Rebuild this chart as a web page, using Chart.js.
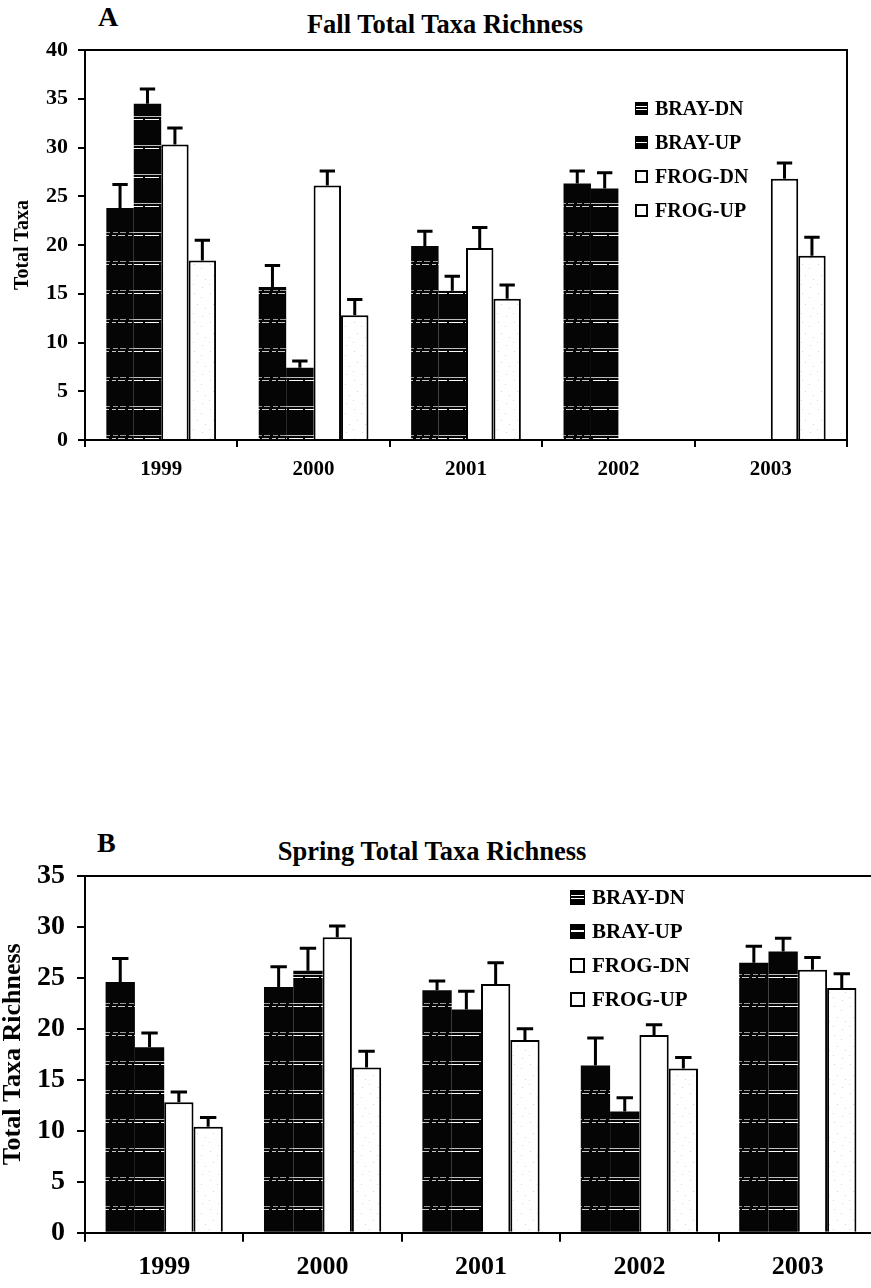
<!DOCTYPE html>
<html>
<head>
<meta charset="utf-8">
<script src="https://cdn.jsdelivr.net/npm/chart.js@4"></script>
<style>
html, body { margin: 0; padding: 0; background: #fff; overflow: hidden; }
body { position: relative; width: 871px; height: 1288px; font-family: "Liberation Serif", "DejaVu Serif", serif; font-weight: bold; color: #000; }
canvas { position: absolute; left: 0; }
.lbl { position: absolute; line-height: 1; white-space: nowrap; }
.legend { position: absolute; }
.legend .row { position: absolute; left: 0; white-space: nowrap; line-height: 1; }
.legend .sw { position: absolute; left: 0; box-sizing: border-box; }
</style>
</head>
<body>
<div class="lbl" style="left:98px; top:3px; font-size:28px;">A</div>
<div class="lbl" style="left:445px; top:11px; font-size:26.5px; transform:translateX(-50%);">Fall Total Taxa Richness</div>
<canvas id="fallchart" width="871" height="500" style="top:0px"></canvas>
<div class="legend" id="fallLegend" style="left:635px; top:98px;"></div>

<div class="lbl" style="left:97px; top:829px; font-size:28px;">B</div>
<div class="lbl" style="left:432px; top:838px; font-size:26.5px; transform:translateX(-50%);">Spring Total Taxa Richness</div>
<canvas id="springchart" width="880" height="488" style="top:800px"></canvas>
<div class="legend" id="springLegend" style="left:570px; top:887px;"></div>

<script>
var years = ['1999', '2000', '2001', '2002', '2003'];
var series = ['BRAY-DN', 'BRAY-UP', 'FROG-DN', 'FROG-UP'];

// Fall (panel A)
var fallBrayDn = [23.8, 15.7, 19.9, 26.3, null];
var fallBrayUp = [34.5, 7.4, 15.3, 25.8, null];
var fallFrogDn = [30.3, 26.1, 19.7, null, 26.8];
var fallFrogUp = [18.4, 12.8, 14.5, null, 18.9];
var fallBrayDnErr = [2.4, 2.2, 1.5, 1.3, null];
var fallBrayUpErr = [1.5, 0.7, 1.5, 1.6, null];
var fallFrogDnErr = [1.7, 1.5, 2.1, null, 1.6];
var fallFrogUpErr = [2.1, 1.6, 1.4, null, 1.9];
var fallTicks = [0, 5, 10, 15, 20, 25, 30, 35, 40];

// Spring (panel B)
var springBrayDn = [24.6, 24.1, 23.8, 16.4, 26.5];
var springBrayUp = [18.2, 25.7, 21.9, 11.9, 27.6];
var springFrogDn = [12.8, 29.0, 24.4, 19.4, 25.8];
var springFrogUp = [10.4, 16.2, 18.9, 16.1, 24.0];
var springBrayDnErr = [2.3, 2.0, 0.9, 2.7, 1.6];
var springBrayUpErr = [1.4, 2.2, 1.8, 1.35, 1.3];
var springFrogDnErr = [1.0, 1.1, 2.1, 1.0, 1.2];
var springFrogUpErr = [0.9, 1.6, 1.1, 1.1, 1.4];
var springTicks = [0, 5, 10, 15, 20, 25, 30, 35];

function makePattern(kind) {
    var c = document.createElement('canvas');
    c.width = 16;
    c.height = 29;
    var g = c.getContext('2d');
    if (kind === 'frog') {
        g.fillStyle = '#ffffff';
        g.fillRect(0, 0, 16, 29);
        g.fillStyle = '#d8d8d8';
        var dots = [[2, 3], [9, 7], [5, 14], [13, 18], [1, 23], [10, 26]];
        for (var i = 0; i < dots.length; i++) g.fillRect(dots[i][0], dots[i][1], 1, 1);
        return g.createPattern(c, 'repeat');
    }
    g.fillStyle = '#050505';
    g.fillRect(0, 0, 16, 29);
    if (kind === 'dn') {
        g.fillStyle = '#9a9a9a';
        g.fillRect(1, 0, 5, 1);
        g.fillRect(8, 0, 6, 1);
        g.fillStyle = '#c8c8c8';
        g.fillRect(0, 3, 4, 1);
        g.fillRect(6, 3, 7, 1);
    } else {
        g.fillStyle = '#bdbdbd';
        g.fillRect(0, 0, 16, 1);
        g.fillStyle = '#ffffff';
        g.fillRect(1, 3, 14, 1);
    }
    return g.createPattern(c, 'repeat');
}

var fills = [makePattern('dn'), makePattern('up'), '#ffffff', makePattern('frog')];

var errorBars = {
    id: 'errorBars',
    afterDatasetsDraw: function (chart, args, opts) {
        var ctx = chart.ctx;
        var yScale = chart.scales.y;
        ctx.save();
        ctx.strokeStyle = '#000';
        ctx.lineWidth = 3;
        for (var i = 0; i < chart.data.datasets.length; i++) {
            var meta = chart.getDatasetMeta(i);
            var vals = chart.data.datasets[i].data;
            var errs = opts.errors[i];
            for (var j = 0; j < meta.data.length; j++) {
                if (vals[j] == null || errs[j] == null) continue;
                var bar = meta.data[j];
                var yTop = yScale.getPixelForValue(vals[j] + errs[j]);
                var half = bar.width * 0.28;
                ctx.beginPath();
                ctx.moveTo(bar.x, bar.y);
                ctx.lineTo(bar.x, yTop);
                ctx.moveTo(bar.x - half, yTop);
                ctx.lineTo(bar.x + half, yTop);
                ctx.stroke();
            }
        }
        ctx.restore();
    }
};

var frameBox = {
    id: 'frameBox',
    afterDraw: function (chart) {
        var a = chart.chartArea;
        var ctx = chart.ctx;
        ctx.save();
        ctx.strokeStyle = '#000';
        ctx.lineWidth = 2;
        ctx.beginPath();
        ctx.moveTo(a.left, a.top);
        ctx.lineTo(a.right, a.top);
        ctx.lineTo(a.right, a.bottom);
        ctx.stroke();
        ctx.restore();
    }
};

function buildChart(id, values, errors, ticks, cfg) {
    var ds = [];
    for (var i = 0; i < series.length; i++) {
        ds.push({
            label: series[i],
            data: values[i],
            backgroundColor: fills[i],
            borderColor: '#000',
            borderWidth: i < 2 ? 0 : 2,
            borderSkipped: 'bottom',
            categoryPercentage: cfg.groupWidth,
            barPercentage: 1.0
        });
    }
    return new Chart(document.getElementById(id), {
        type: 'bar',
        data: { labels: years, datasets: ds },
        options: {
            responsive: false,
            animation: false,
            layout: { padding: { top: cfg.top, right: cfg.right, left: 0, bottom: 0 } },
            plugins: {
                legend: { display: false },
                tooltip: { enabled: false },
                errorBars: { errors: errors }
            },
            scales: {
                x: {
                    grid: { display: true, offset: true, drawOnChartArea: false, tickLength: cfg.xTick, color: '#000', lineWidth: 2 },
                    border: { display: true, color: '#000', width: 2 },
                    ticks: {
                        color: '#000',
                        padding: cfg.xPad,
                        font: { family: 'Liberation Serif', weight: 'bold', size: cfg.tickSize }
                    },
                    afterFit: function (scale) { scale.height = cfg.xHeight; }
                },
                y: {
                    min: 0,
                    max: ticks[ticks.length - 1],
                    afterBuildTicks: function (scale) {
                        scale.ticks = ticks.map(function (v) { return { value: v }; });
                    },
                    grid: { display: true, drawOnChartArea: false, tickLength: cfg.yTick, color: '#000', lineWidth: 2 },
                    border: { display: true, color: '#000', width: 2 },
                    ticks: {
                        color: '#000',
                        padding: cfg.yPad,
                        font: { family: 'Liberation Serif', weight: 'bold', size: cfg.yTickSize }
                    },
                    title: {
                        display: true,
                        text: cfg.yTitle,
                        color: '#000',
                        padding: { top: cfg.titlePad, bottom: 0 },
                        font: { family: 'Liberation Serif', weight: 'bold', size: cfg.yTitleSize, lineHeight: 1 }
                    },
                    afterFit: function (scale) { scale.width = 85; }
                }
            }
        },
        plugins: [errorBars, frameBox]
    });
}

function makeLegend(boxId, chart, size, step, sw) {
    var box = document.getElementById(boxId);
    chart.data.datasets.forEach(function (d, i) {
        var row = document.createElement('div');
        row.className = 'row';
        row.style.top = (i * step) + 'px';
        row.style.fontSize = size + 'px';
        row.style.paddingLeft = (sw + 7) + 'px';
        var s = document.createElement('span');
        s.className = 'sw';
        s.style.width = sw + 'px';
        s.style.height = sw + 'px';
        s.style.top = Math.round((size - sw) / 2) + 'px';
        if (i < 2) {
            s.style.background = i === 0
                ? 'linear-gradient(#000 0 30%, #fff 30% 38%, #000 38% 52%, #fff 52% 60%, #000 60% 100%)'
                : 'linear-gradient(#000 0 42%, #fff 42% 55%, #000 55% 100%)';
            s.style.border = '1px solid #000';
        } else {
            s.style.background = '#fff';
            s.style.border = '2px solid #000';
        }
        row.appendChild(s);
        row.appendChild(document.createTextNode(d.label));
        box.appendChild(row);
    });
}

var fallChart = buildChart('fallchart',
    [fallBrayDn, fallBrayUp, fallFrogDn, fallFrogUp],
    [fallBrayDnErr, fallBrayUpErr, fallFrogDnErr, fallFrogUpErr],
    fallTicks,
    { groupWidth: 0.72, top: 50, right: 24, xHeight: 60, xTick: 7, xPad: 10, yTick: 7, yPad: 10,
      tickSize: 21, yTickSize: 22, yTitle: 'Total Taxa', yTitleSize: 20, titlePad: 13 });

var springChart = buildChart('springchart',
    [springBrayDn, springBrayUp, springFrogDn, springFrogUp],
    [springBrayDnErr, springBrayUpErr, springFrogDnErr, springFrogUpErr],
    springTicks,
    { groupWidth: 0.74, top: 76, right: 3, xHeight: 55.3, xTick: 9, xPad: 10, yTick: 8, yPad: 12,
      tickSize: 26, yTickSize: 28, yTitle: 'Total Taxa Richness', yTitleSize: 26, titlePad: 0 });

makeLegend('fallLegend', fallChart, 20, 34, 13);
makeLegend('springLegend', springChart, 21, 34, 15);
</script>
</body>
</html>
